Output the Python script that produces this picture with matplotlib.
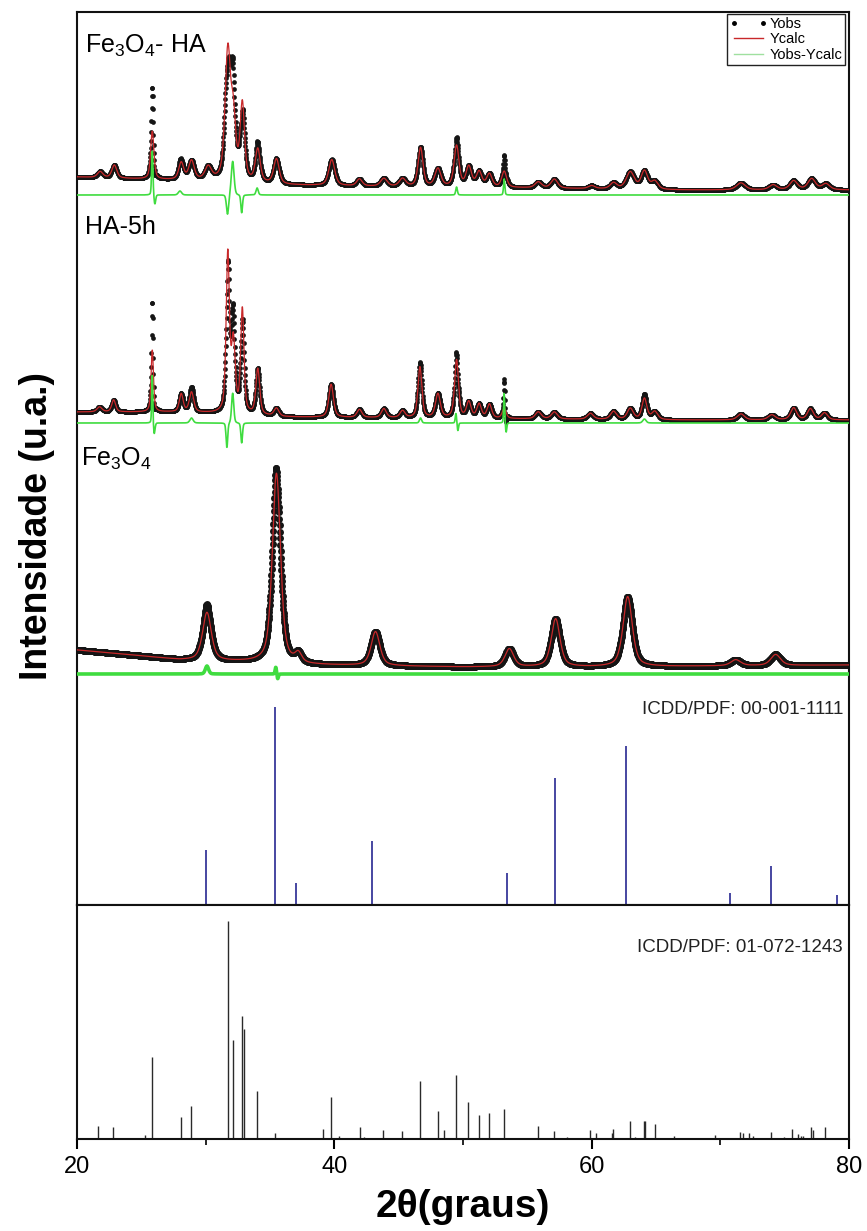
import numpy as np
import matplotlib
matplotlib.use("Agg")
import matplotlib.pyplot as plt
from matplotlib.lines import Line2D
from matplotlib.ticker import FixedLocator

plt.rcParams['font.family'] = ['Liberation Sans', 'DejaVu Sans']
plt.rcParams['mathtext.fontset'] = 'custom'
plt.rcParams['mathtext.rm'] = 'Liberation Sans'
plt.rcParams['mathtext.it'] = 'Liberation Sans:italic'
plt.rcParams['mathtext.bf'] = 'Liberation Sans:bold'
plt.rcParams['mathtext.default'] = 'regular'

# ---------------- data (stacked intensity units) -------------
two_theta = np.arange(20.0, 80.001, 0.02)

# Fe3O4 - HA
p1_bg_x = [20, 27, 30, 36, 45, 55, 66, 80]
p1_bg_y = [728, 725, 724, 720, 718, 717, 715, 715]
p1_pos = [21.8, 22.9, 25.85, 28.1, 28.9, 30.2, 31.72, 32.15, 32.85, 34.05, 35.5, 39.8,
          41.95, 43.85, 45.3, 46.7, 48.05, 49.5, 50.45, 51.25, 52.05, 53.2, 55.85, 57.1,
          60.0, 61.7, 63.0, 64.1, 64.9, 71.6, 74.1, 75.7, 77.1, 78.2]
p1_calc = [6, 13, 48, 17, 19, 13, 128, 58, 76, 33, 25, 26,
           7, 8, 8, 39, 18, 41, 20, 15, 13, 16, 6, 9,
           3, 6, 17, 18, 8, 7, 5, 9, 11, 6]
p1_fwhm = [0.5, 0.45, 0.3, 0.45, 0.5, 0.6, 0.5, 0.45, 0.4, 0.45, 0.5, 0.55,
           0.5, 0.6, 0.6, 0.45, 0.55, 0.45, 0.5, 0.5, 0.5, 0.45, 0.6, 0.6,
           0.6, 0.6, 0.75, 0.6, 0.6, 0.8, 0.7, 0.7, 0.7, 0.7]
p1_mis_pos = [25.85, 26.05, 28.0, 31.7, 32.1, 32.8, 34.0, 49.5, 53.2]
p1_mis_amp = [45, -10, 4, -20, 34, -18, 7, 8, 16]
p1_mis_w = [0.12, 0.15, 0.3, 0.2, 0.25, 0.15, 0.2, 0.15, 0.12]
p1_diff_offset = 710

# HA-5h
p2_bg_x = [20, 27, 30, 36, 45, 55, 66, 80]
p2_bg_y = [493, 493, 492, 488, 487, 486, 485, 485]
p2_pos = [21.75, 22.85, 25.85, 28.1, 28.9, 31.72, 32.15, 32.85, 34.05, 35.5, 39.75,
          41.95, 43.85, 45.3, 46.65, 48.05, 49.5, 50.45, 51.25, 52.05, 53.2, 55.85,
          57.1, 59.9, 61.7, 63.0, 64.1, 64.9, 71.6, 74.0, 75.7, 77.0, 78.1]
p2_calc = [5, 12, 62, 18, 20, 158, 70, 104, 46, 8, 33,
           8, 9, 7, 51, 24, 58, 16, 14, 14, 10, 7,
           7, 6, 8, 11, 21, 8, 6, 5, 12, 11, 7]
p2_fwhm = [0.45, 0.35, 0.22, 0.35, 0.4, 0.3, 0.35, 0.3, 0.35, 0.45, 0.42,
           0.45, 0.45, 0.45, 0.36, 0.45, 0.36, 0.42, 0.42, 0.42, 0.36, 0.55,
           0.55, 0.55, 0.55, 0.55, 0.45, 0.55, 0.65, 0.65, 0.55, 0.55, 0.55]
p2_mis_pos = [25.85, 26.0, 28.9, 31.65, 32.1, 32.8, 46.7, 49.45, 49.6, 53.2, 53.35, 64.1]
p2_mis_amp = [50, -12, 5, -25, 30, -20, 5, 10, -8, 30, -10, 4]
p2_mis_w = [0.1, 0.15, 0.3, 0.15, 0.2, 0.15, 0.2, 0.12, 0.12, 0.1, 0.12, 0.3]
p2_diff_offset = 482

# Fe3O4
p3_bg_x = [20, 25, 28, 33, 38, 50, 60, 70, 80]
p3_bg_y = [255, 249, 245, 243, 240, 238, 238, 239, 240]
p3_pos = [30.1, 35.5, 37.2, 43.2, 53.6, 57.2, 62.8, 71.2, 74.3]
p3_calc = [48, 190, 9, 34, 18, 48, 70, 6, 11]
p3_fwhm = [0.8, 0.75, 0.6, 0.8, 0.8, 0.8, 0.85, 0.9, 0.9]
p3_mis_pos = [30.1, 35.45, 35.6]
p3_mis_amp = [8, 7, -5]
p3_mis_w = [0.3, 0.12, 0.12]
p3_diff_offset = 231

# Reference patterns
ref_fe3o4_pos = [30.02, 35.37, 37.05, 42.91, 53.45, 57.13, 62.68, 70.74, 73.93, 79.04]
ref_fe3o4_int = [55, 198, 22, 64, 32, 127, 159, 12, 39, 10]

ref_ha_pos = [21.64, 22.8, 25.3, 25.83, 28.06, 28.86, 31.70, 32.14, 32.81, 32.95, 34.01,
              35.41, 39.12, 39.72, 40.36, 41.96, 42.3, 43.79, 45.27, 46.63, 48.07, 48.54,
              49.42, 50.42, 51.22, 52.02, 53.21, 55.85, 57.09, 58.05, 58.6, 59.88, 60.36,
              61.56, 61.68, 62.96, 63.36, 64.04, 64.16, 64.96, 66.4, 69.6, 71.54, 71.74,
              72.2, 72.5, 73.93, 74.93, 75.6, 76.05, 76.3, 76.45, 77.05, 77.2, 78.17]
ref_ha_int = [13, 12, 4, 82, 22, 33, 218, 99, 123, 110, 48,
              6, 10, 42, 3, 12, 2, 9, 8, 58, 28, 9,
              64, 37, 24, 26, 30, 13, 8, 2, 1, 9, 6,
              6, 10, 18, 2, 18, 18, 15, 3, 4, 7, 6,
              6, 3, 7, 2, 10, 5, 3, 3, 12, 9, 12]

sample_labels = ['Fe$_3$O$_4$- HA', 'HA-5h', 'Fe$_3$O$_4$']
legend_labels = ['Yobs', 'Ycalc', 'Yobs-Ycalc']
ref_labels = ['ICDD/PDF: 00-001-1111', 'ICDD/PDF: 01-072-1243']
x_ticks = [20, 40, 60, 80]


def pvoigt(x, pos, amp, fwhm, eta=0.55):
    y = np.zeros_like(x)
    for p, a, w in zip(pos, amp, fwhm):
        d = (x - p) / (w / 2.0)
        lor = 1.0 / (1.0 + d ** 2)
        gau = np.exp(-np.log(2) * d ** 2)
        y += a * (eta * lor + (1 - eta) * gau)
    return y


RED = '#c8282a'
GREEN = '#3fdc3f'
BLUE = '#38389a'

W, H = 867, 1231
fig = plt.figure(figsize=(W / 100, H / 100), dpi=100)
L = 77 / W
AW = 772 / W
ax1 = fig.add_axes([L, 1 - 905 / H, AW, (905 - 12) / H])
ax2 = fig.add_axes([L, 1 - 1139 / H, AW, (1139 - 905) / H])

patterns = [
    (p1_bg_x, p1_bg_y, p1_pos, p1_calc, p1_fwhm, p1_mis_pos, p1_mis_amp, p1_mis_w, p1_diff_offset, 3.4, 1.2),
    (p2_bg_x, p2_bg_y, p2_pos, p2_calc, p2_fwhm, p2_mis_pos, p2_mis_amp, p2_mis_w, p2_diff_offset, 3.4, 1.2),
    (p3_bg_x, p3_bg_y, p3_pos, p3_calc, p3_fwhm, p3_mis_pos, p3_mis_amp, p3_mis_w, p3_diff_offset, 5.0, 2.6),
]
for bgx, bgy, pos, calc, fw, mpos, mamp, mw, doff, ms, glw in patterns:
    bg = np.interp(two_theta, bgx, bgy)
    ycalc = bg + pvoigt(two_theta, pos, calc, fw)
    misfit = pvoigt(two_theta, mpos, mamp, mw, eta=0.3)
    yobs = ycalc + misfit
    ax1.plot(two_theta, yobs, ls='none', marker='o', ms=ms, mfc='#151515', mec='none', zorder=2)
    ax1.plot(two_theta, ycalc, color=RED, lw=0.9, zorder=3)
    ax1.plot(two_theta, doff + misfit, color=GREEN, lw=glw, zorder=4)

ax1.vlines(ref_fe3o4_pos, 0, ref_fe3o4_int, color=BLUE, lw=1.3)
ax2.vlines(ref_ha_pos, 0, ref_ha_int, color='#2a2a2a', lw=1.0)

ax1.set_xlim(20, 80)
ax1.set_ylim(0, 893)
ax2.set_xlim(20, 80)
ax2.set_ylim(0, 234)

for ax in (ax1, ax2):
    for s in ax.spines.values():
        s.set_linewidth(1.5)
        s.set_color('#111111')
    ax.set_yticks([])
ax1.set_xticks([])

ax2.xaxis.set_major_locator(FixedLocator(x_ticks))
ax2.xaxis.set_minor_locator(FixedLocator([30, 50, 70]))
ax2.set_xticklabels([str(t) for t in x_ticks], fontsize=17)
ax2.tick_params(axis='x', which='major', direction='out', length=7, width=1.5, pad=5)
ax2.tick_params(axis='x', which='minor', direction='out', length=4, width=1.2)


def ftext(px, py, s, **kw):
    fig.text(px / W, 1 - py / H, s, **kw)


ftext(85, 53, sample_labels[0], fontsize=18, va='baseline', ha='left')
ftext(85, 234, sample_labels[1], fontsize=18, va='baseline', ha='left')
ftext(81, 466, sample_labels[2], fontsize=18, va='baseline', ha='left')
ftext(843, 714, ref_labels[0], fontsize=13.5, va='baseline', ha='right', color='#222222')
ftext(843, 952, ref_labels[1], fontsize=13.5, va='baseline', ha='right', color='#222222')

ftext(37, 526, 'Intensidade (u.a.)', fontsize=27, fontweight='bold', rotation=90,
      ha='center', va='center')
ftext(463, 1207, '2\u03b8(graus)', fontsize=28, fontweight='bold', ha='center', va='center')

handles = [Line2D([], [], ls='none', marker='o', ms=2.5, color='black'),
           Line2D([], [], color=RED, lw=1.0),
           Line2D([], [], color='#9fe09f', lw=1.0)]
leg = ax1.legend(handles, legend_labels, loc='upper right',
                 bbox_to_anchor=((845 - 77) / 772, (905 - 14) / 893),
                 fontsize=10.5, numpoints=2, frameon=True, fancybox=False,
                 framealpha=1, edgecolor='#222222', borderpad=0.2, labelspacing=0.1,
                 handlelength=2.6, handletextpad=0.1, borderaxespad=0)
leg.get_frame().set_linewidth(1.0)

fig.savefig('out.png', dpi=100)
